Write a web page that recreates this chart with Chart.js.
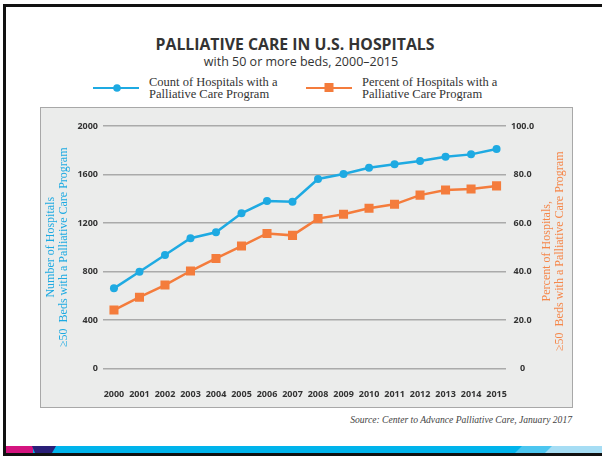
<!DOCTYPE html>
<html>
<head>
<meta charset="utf-8">
<script src="https://cdn.jsdelivr.net/npm/chart.js@4.4.1/dist/chart.umd.min.js"></script>
<style>
  body { margin: 0; background: #fff; }
  #page { position: relative; width: 602px; height: 456px; overflow: hidden; background: #fff; }
  .frame { position: absolute; background: #111; }
  .heading { position: absolute; transform: translateX(-50%); white-space: nowrap; color: #333; }
  #title { left: 295px; top: 33px; font: 700 15.8px 'Open Sans', sans-serif; }
  #subtitle { left: 301px; top: 53px; font: 400 12.5px 'Open Sans', sans-serif; }
  .legend-item { position: absolute; top: 76px; display: flex; align-items: center; }
  .legend-item svg { margin-right: 10px; }
  .legend-item span { font: 12.5px/12px 'Liberation Serif', serif; color: #333; }
  #panel { position: absolute; left: 40px; top: 107px; width: 531px; height: 299px;
           border: 1px solid #a8a8a8; background: #ebeceb; }
  #source { position: absolute; right: 30px; top: 414px; font: italic 9.6px 'Liberation Serif', serif; color: #444; }
  #strip { position: absolute; left: 0; top: 446px; }
</style>
</head>
<body>
<div id="page">
  <div class="frame" style="left:3px;top:4px;width:599px;height:3px"></div>
  <div class="frame" style="left:3px;top:4px;width:3px;height:452px"></div>

  <div id="title" class="heading">PALLIATIVE CARE IN U.S. HOSPITALS</div>
  <div id="subtitle" class="heading">with 50 or more beds, 2000–2015</div>

  <div class="legend-item" style="left:93px">
    <svg width="46" height="10"><line x1="0" y1="5" x2="46" y2="5" stroke="#1eaae2" stroke-width="2"/><circle cx="24" cy="5" r="3.8" fill="#1eaae2"/></svg>
    <span>Count of Hospitals with a<br>Palliative Care Program</span>
  </div>
  <div class="legend-item" style="left:306px">
    <svg width="46" height="10"><line x1="0" y1="5" x2="46" y2="5" stroke="#f47c3c" stroke-width="2"/><rect x="18.5" y="0" width="9" height="9" fill="#f47c3c"/></svg>
    <span>Percent of Hospitals with a<br>Palliative Care Program</span>
  </div>

  <div id="panel"><canvas id="care-chart" width="531" height="299"></canvas></div>

  <div id="source">Source: Center to Advance Palliative Care, January 2017</div>

  <svg id="strip" width="602" height="10">
    <rect x="6" y="0" width="596" height="7" fill="#00b4ec"/>
    <rect x="6" y="0" width="27" height="7" fill="#d4147f"/>
    <polygon points="32,0 56,0 52,7 35,7" fill="#2a1f78"/>
    <polygon points="522,0 602,0 602,7 515,7" fill="#4cc6f0"/>
    <polygon points="552,0 602,0 602,7 545,7" fill="#a6ddf4"/>
    <rect x="3" y="7" width="599" height="3" fill="#111"/>
  </svg>
</div>

<script>
const years = ['2000', '2001', '2002', '2003', '2004', '2005', '2006', '2007',
               '2008', '2009', '2010', '2011', '2012', '2013', '2014', '2015'];
const hospitalCounts = [661, 798, 936, 1074, 1123, 1280, 1381, 1376,
                        1563, 1604, 1656, 1684, 1711, 1747, 1766, 1810];
const hospitalPercents = [24.1, 29.4, 34.4, 40.2, 45.4, 50.5, 55.7, 54.9,
                          61.8, 63.6, 66.1, 67.7, 71.5, 73.6, 74.0, 75.3];
const countTicks = [0, 400, 800, 1200, 1600, 2000];
const percentTicks = [0, 20, 40, 60, 80, 100];

const countTitle = ['Number of Hospitals', '\u226550  Beds with a Palliative Care Program'];
const percentTitle = ['Percent of Hospitals,', '\u226550  Beds with a Palliative Care Program'];

const BLUE = '#1eaae2';
const ORANGE = '#f47c3c';
const tickFont = { family: 'Open Sans', weight: 'bold', size: 9 };
const titleFont = { family: 'Liberation Serif', size: 12, lineHeight: 1.05 };

// right-hand axis title reads bottom-to-top like the left one
const rightTitle = {
    id: 'rightTitle',
    afterDraw(chart) {
        const { ctx, chartArea, scales } = chart;
        const lh = titleFont.size * titleFont.lineHeight;
        ctx.save();
        ctx.translate(scales.y1.right - 25, (chartArea.top + chartArea.bottom) / 2 + 4);
        ctx.rotate(-Math.PI / 2);
        ctx.font = `${titleFont.size}px ${titleFont.family}`;
        ctx.fillStyle = '#f5874a';
        ctx.textAlign = 'center';
        ctx.textBaseline = 'middle';
        percentTitle.forEach((line, i) => ctx.fillText(line, 0, i * lh));
        ctx.restore();
    }
};

new Chart(document.getElementById('care-chart'), {
    type: 'line',
    data: {
        datasets: [{
            label: 'Count of Hospitals with a Palliative Care Program',
            data: hospitalCounts.map((v, i) => ({ x: i, y: v })),
            yAxisID: 'y',
            borderColor: BLUE,
            backgroundColor: BLUE,
            borderWidth: 2.5,
            pointStyle: 'circle',
            pointRadius: 4,
            pointBorderWidth: 0
        }, {
            label: 'Percent of Hospitals with a Palliative Care Program',
            data: hospitalPercents.map((v, i) => ({ x: i, y: v })),
            yAxisID: 'y1',
            borderColor: ORANGE,
            backgroundColor: ORANGE,
            borderWidth: 2.5,
            pointStyle: 'rect',
            pointRadius: 6.4,
            pointBorderWidth: 0
        }]
    },
    options: {
        responsive: false,
        animation: false,
        layout: { padding: { top: 18 } },
        plugins: {
            legend: { display: false },
            tooltip: { enabled: false }
        },
        scales: {
            x: {
                type: 'linear',
                min: -0.43,
                max: 15.37,
                grid: { display: false },
                border: { display: false },
                afterBuildTicks: (s) => { s.ticks = years.map((_, i) => ({ value: i })); },
                afterFit: (s) => { s.height = 38.5; },
                ticks: {
                    callback: (v) => years[v],
                    autoSkip: false,
                    maxRotation: 0,
                    padding: 13,
                    color: '#333',
                    font: tickFont
                }
            },
            y: {
                position: 'left',
                min: 0,
                max: 2000,
                afterBuildTicks: (s) => { s.ticks = countTicks.map((v) => ({ value: v })); },
                afterFit: (s) => { s.width = 62; },
                grid: { color: '#aaaaaa', lineWidth: 1.5, drawTicks: false },
                border: { display: false },
                ticks: { padding: 5, color: '#333', font: tickFont, callback: (v) => String(v) },
                title: {
                    display: true,
                    text: countTitle,
                    color: BLUE,
                    font: titleFont,
                    padding: { top: 4, bottom: 0 }
                }
            },
            y1: {
                position: 'right',
                min: 0,
                max: 100,
                afterBuildTicks: (s) => { s.ticks = percentTicks.map((v) => ({ value: v })); },
                afterFit: (s) => { s.width = 66; },
                grid: { display: false, drawTicks: false },
                border: { display: false },
                ticks: {
                    padding: 5,
                    crossAlign: 'center',
                    color: '#333',
                    font: tickFont,
                    callback: (v) => (v === 0 ? '0' : v.toFixed(1))
                }
            }
        }
    },
    plugins: [rightTitle]
});
</script>
</body>
</html>
